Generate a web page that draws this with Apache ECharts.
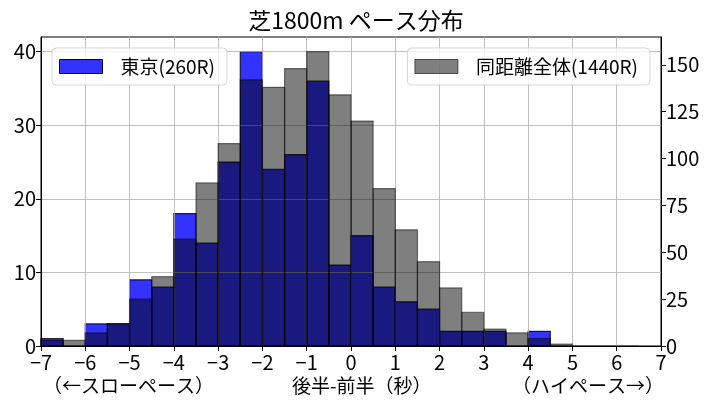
<!DOCTYPE html>
<html>
<head>
  <meta charset="utf-8">
  <title>芝1800m ペース分布</title>
  <script src="https://cdn.jsdelivr.net/npm/echarts@6/dist/echarts.min.js"></script>
  <style>
    html, body { margin: 0; padding: 0; background: #fff; }
    #chart { width: 711px; height: 411px; }
  </style>
</head>
<body>
  <div id="chart"></div>
  <script>
    // 階級の左端 (幅0.5秒)
    var binStarts = [-7, -6.5, -6, -5.5, -5, -4.5, -4, -3.5, -3, -2.5, -2, -1.5, -1, -0.5,
                     0, 0.5, 1, 1.5, 2, 2.5, 3, 3.5, 4, 4.5, 5, 5.5, 6];
    var binWidth = 0.5;
    // 東京 (260R) 左軸
    var tokyoCounts = [1, 0, 3, 3, 9, 8, 18, 14, 25, 40, 24, 26, 36, 11,
                       15, 8, 6, 5, 2, 2, 2, 0, 2, 0, 0, 0, 0];
    // 同距離全体 (1440R) 右軸
    var allCounts = [3, 3, 7, 12, 25, 37, 57, 87, 108, 142, 138, 148, 157, 134,
                     120, 84, 62, 45, 31, 18, 9, 7, 4, 1, 0, 0, 0];
    var xTicks = [-7, -6, -5, -4, -3, -2, -1, 0, 1, 2, 3, 4, 5, 6, 7];
    var leftTicks = [0, 10, 20, 30, 40];
    var rightTicks = [0, 25, 50, 75, 100, 125, 150];

    var numFont = "'Noto Sans CJK JP', sans-serif";
    var jpFont = "'Noto Sans CJK JP', sans-serif";

    function pairs(vals, skipZero) {
      var out = [];
      binStarts.forEach(function (x, i) {
        if (skipZero && !vals[i]) return;
        out.push([x, vals[i]]);
      });
      return out;
    }

    function binRenderer(fill, stroke) {
      return function (params, api) {
        var x0 = api.value(0), v = api.value(1);
        var p0 = api.coord([x0, v]);
        var p1 = api.coord([x0 + binWidth, 0]);
        return {
          type: 'rect',
          shape: { x: p0[0], y: p0[1], width: p1[0] - p0[0], height: p1[1] - p0[1] },
          style: { fill: fill, stroke: stroke, lineWidth: 1.2 }
        };
      };
    }

    var tickFmt = function (v) { return String(v).replace('-', '\u2212'); };

    var legendBase = {
      top: 48,
      orient: 'horizontal',
      icon: 'rect',
      itemWidth: 43,
      itemHeight: 14,
      padding: [9, 12, 9, 7],
      backgroundColor: 'rgba(255,255,255,0.8)',
      borderColor: 'rgba(204,204,204,0.8)',
      borderWidth: 1,
      borderRadius: 4,
      textStyle: { fontSize: 19, color: '#000', fontFamily: jpFont, padding: [0, 0, 0, 13] }
    };

    var option = {
      animation: false,
      title: {
        text: '芝1800m ペース分布',
        left: 351,
        top: 4,
        textAlign: 'center',
        textStyle: { fontSize: 23, fontWeight: 'normal', color: '#000', fontFamily: jpFont }
      },
      legend: [
        Object.assign({}, legendBase, {
          left: 52,
          data: [{ name: '東京(260R)', itemStyle: { color: 'rgba(0,0,255,0.8)', borderColor: '#000', borderWidth: 1 } }]
        }),
        Object.assign({}, legendBase, {
          right: 61,
          data: [{ name: '同距離全体(1440R)', itemStyle: { color: 'rgba(0,0,0,0.5)', borderColor: 'rgba(0,0,0,0.6)', borderWidth: 1 } }]
        })
      ],
      grid: {
        left: 41, right: 50, top: 37, bottom: 65,
        show: true, borderColor: '#000', borderWidth: 1, backgroundColor: 'transparent'
      },
      xAxis: {
        type: 'value',
        min: -7, max: 7, interval: 1,
        z: 2,
        axisLine: { onZero: false, lineStyle: { color: '#000', width: 1 } },
        axisTick: { show: true, length: 5, lineStyle: { color: '#000' }, customValues: xTicks },
        axisLabel: { color: '#000', fontSize: 20, fontFamily: numFont, margin: 6, formatter: tickFmt, customValues: xTicks },
        splitLine: { show: true, lineStyle: { color: '#b0b0b0', width: 0.8 } }
      },
      yAxis: [{
        type: 'value',
        min: 0, max: 42, interval: 10,
        position: 'left',
        z: 2,
        axisLine: { show: true, onZero: false, lineStyle: { color: '#000', width: 1 } },
        axisTick: { show: true, length: 5, lineStyle: { color: '#000' }, customValues: leftTicks },
        axisLabel: { color: '#000', fontSize: 20, fontFamily: numFont, margin: 5, customValues: leftTicks },
        splitLine: { show: true, lineStyle: { color: '#b0b0b0', width: 0.8 } }
      }, {
        type: 'value',
        min: 0, max: 164.85, interval: 25,
        position: 'right',
        z: 2,
        axisLine: { show: true, onZero: false, lineStyle: { color: '#000', width: 1 } },
        axisTick: { show: true, length: 5, lineStyle: { color: '#000' }, customValues: rightTicks },
        axisLabel: { color: '#000', fontSize: 20, fontFamily: numFont, margin: 5, customValues: rightTicks },
        splitLine: { show: false }
      }],
      series: [{
        name: '東京(260R)',
        type: 'custom',
        xAxisIndex: 0,
        yAxisIndex: 0,
        z: 1,
        itemStyle: { color: 'rgba(0,0,255,0.8)' },
        renderItem: binRenderer('rgba(0,0,255,0.8)', 'rgba(0,0,0,0.8)'),
        encode: { x: 0, y: 1 },
        data: pairs(tokyoCounts, true)
      }, {
        name: '同距離全体(1440R)',
        type: 'custom',
        xAxisIndex: 0,
        yAxisIndex: 1,
        z: 3,
        itemStyle: { color: 'rgba(0,0,0,0.5)' },
        renderItem: binRenderer('rgba(0,0,0,0.5)', 'rgba(0,0,0,0.5)'),
        encode: { x: 0, y: 1 },
        data: pairs(allCounts, false)
      }],
      graphic: [
        { type: 'text', left: 43, top: 376, style: { text: '（←スローペース）', font: '19px ' + jpFont, fill: '#000' } },
        { type: 'text', left: 292, top: 376, style: { text: '後半-前半（秒）', font: '19px ' + jpFont, fill: '#000' } },
        { type: 'text', left: 512, top: 376, style: { text: '（ハイペース→）', font: '19px ' + jpFont, fill: '#000' } }
      ]
    };

    var chart = echarts.init(document.getElementById('chart'));
    chart.setOption(option);
  </script>
</body>
</html>
